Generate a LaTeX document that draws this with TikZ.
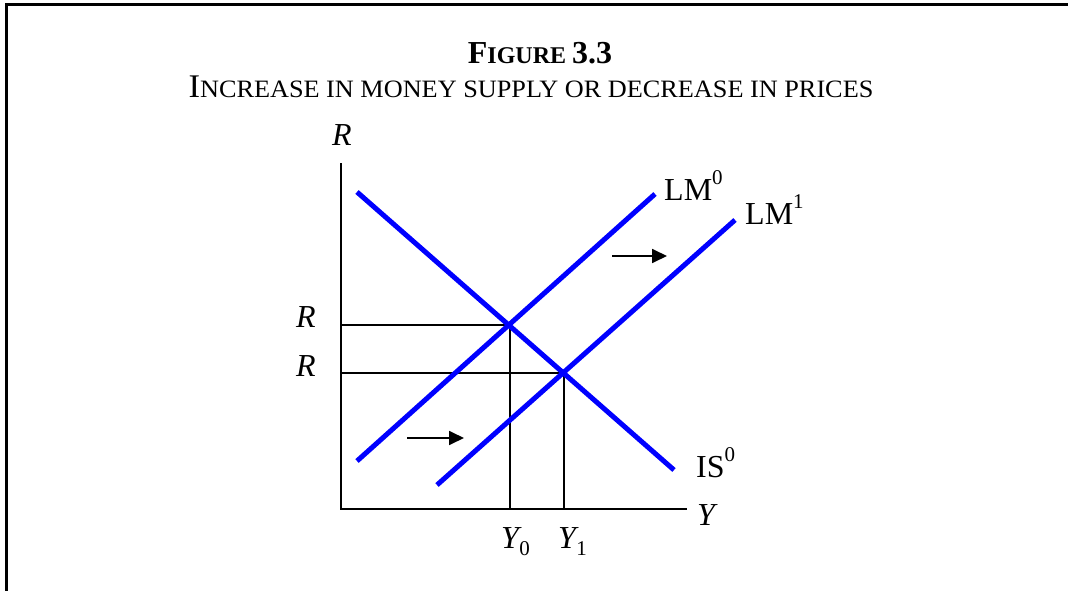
\documentclass[tikz,border=0pt]{standalone}
\usepackage{fontspec}
\setmainfont{Liberation Serif}
\usetikzlibrary{arrows.meta}
\newcommand\bigsz{\fontsize{32}{32}\selectfont}
\newcommand\smsz{\fontsize{24}{24}\selectfont}
\newcommand\lsub[1]{\kern-2.5pt\raisebox{-0.22em}{\fontsize{21}{21}\selectfont #1}}
\newcommand\lsup[1]{\raisebox{0.5em}{\fontsize{21}{21}\selectfont #1}}
\begin{document}
\begin{tikzpicture}[x=1pt,y=-1pt,
 curve/.style={draw=blue, line width=5pt},
 guide/.style={draw=black, line width=1.6pt},
 axis/.style={draw=black, line width=2.2pt},
 shiftarrow/.style={draw=black, line width=1.8pt, -{Triangle[length=15pt,width=14pt]}},
 lab/.style={font=\bigsz, inner sep=0pt},
 frame/.style={draw=black, line width=3pt},
]
\useasboundingbox (0,0) rectangle (1068,591);
% frame
\coordinate (f1) at (1068,4.5);
\coordinate (f2) at (6,4.5);
\coordinate (f3) at (6,591);
\draw[frame] (f1) -- (f2) -- (f3);
% titles
\node[inner sep=0pt, anchor=base] (title) at (540,64) {\bfseries\bigsz F\smsz IGURE \bigsz 3.3};
\node[inner sep=0pt, anchor=base] (subtitle) at (531,98) {\scalebox{1.05}[1]{\fontsize{33}{33}\selectfont I\fontsize{25}{25}\selectfont NCREASE IN MONEY SUPPLY OR DECREASE IN PRICES}};
% axes
\coordinate (O) at (341,509);
\coordinate (ytop) at (341,163);
\coordinate (xend) at (687,509);
\draw[axis] (ytop) -- (O) -- (xend);
% equilibria
\coordinate (E0) at (510,325);
\coordinate (E1) at (564,373);
\coordinate (R0) at (341,325);
\coordinate (R1) at (341,373);
\coordinate (Y0) at (510,509);
\coordinate (Y1) at (564,509);
\draw[guide] (R0) -- (E0) -- (Y0);
\draw[guide] (R1) -- (E1) -- (Y1);
% curves
\coordinate (ISa) at (357,192);
\coordinate (ISb) at (674,470);
\coordinate (LM0a) at (357,461);
\coordinate (LM0b) at (655,194);
\coordinate (LM1a) at (437,485);
\coordinate (LM1b) at (735,220);
\draw[curve] (ISa) -- (ISb);
\draw[curve] (LM0a) -- (LM0b);
\draw[curve] (LM1a) -- (LM1b);
% shift arrows
\coordinate (a1s) at (407,438);
\coordinate (a1e) at (464,438);
\coordinate (a2s) at (612,256);
\coordinate (a2e) at (667,256);
\draw[shiftarrow] (a1s) -- (a1e);
\draw[shiftarrow] (a2s) -- (a2e);
% labels
\node[lab, anchor=base] (Rlab) at (342,146) {\textit{R}};
\node[lab, anchor=base] (Rlab0) at (306,327) {\textit{R}};
\node[lab, anchor=base] (Rlab1) at (306,376) {\textit{R}};
\node[lab, anchor=base west] (Ylab) at (697,525) {\textit{Y}};
\node[lab, anchor=base west] (Y0lab) at (501,548) {\textit{Y}\lsub{0}};
\node[lab, anchor=base west] (Y1lab) at (558,548) {\textit{Y}\lsub{1}};
\node[lab, anchor=base west] (ISlab) at (696,477) {IS\lsup{0}};
\node[lab, anchor=base west] (LM0lab) at (664,200) {LM\lsup{0}};
\node[lab, anchor=base west] (LM1lab) at (745,224) {LM\lsup{1}};
\end{tikzpicture}
\end{document}
